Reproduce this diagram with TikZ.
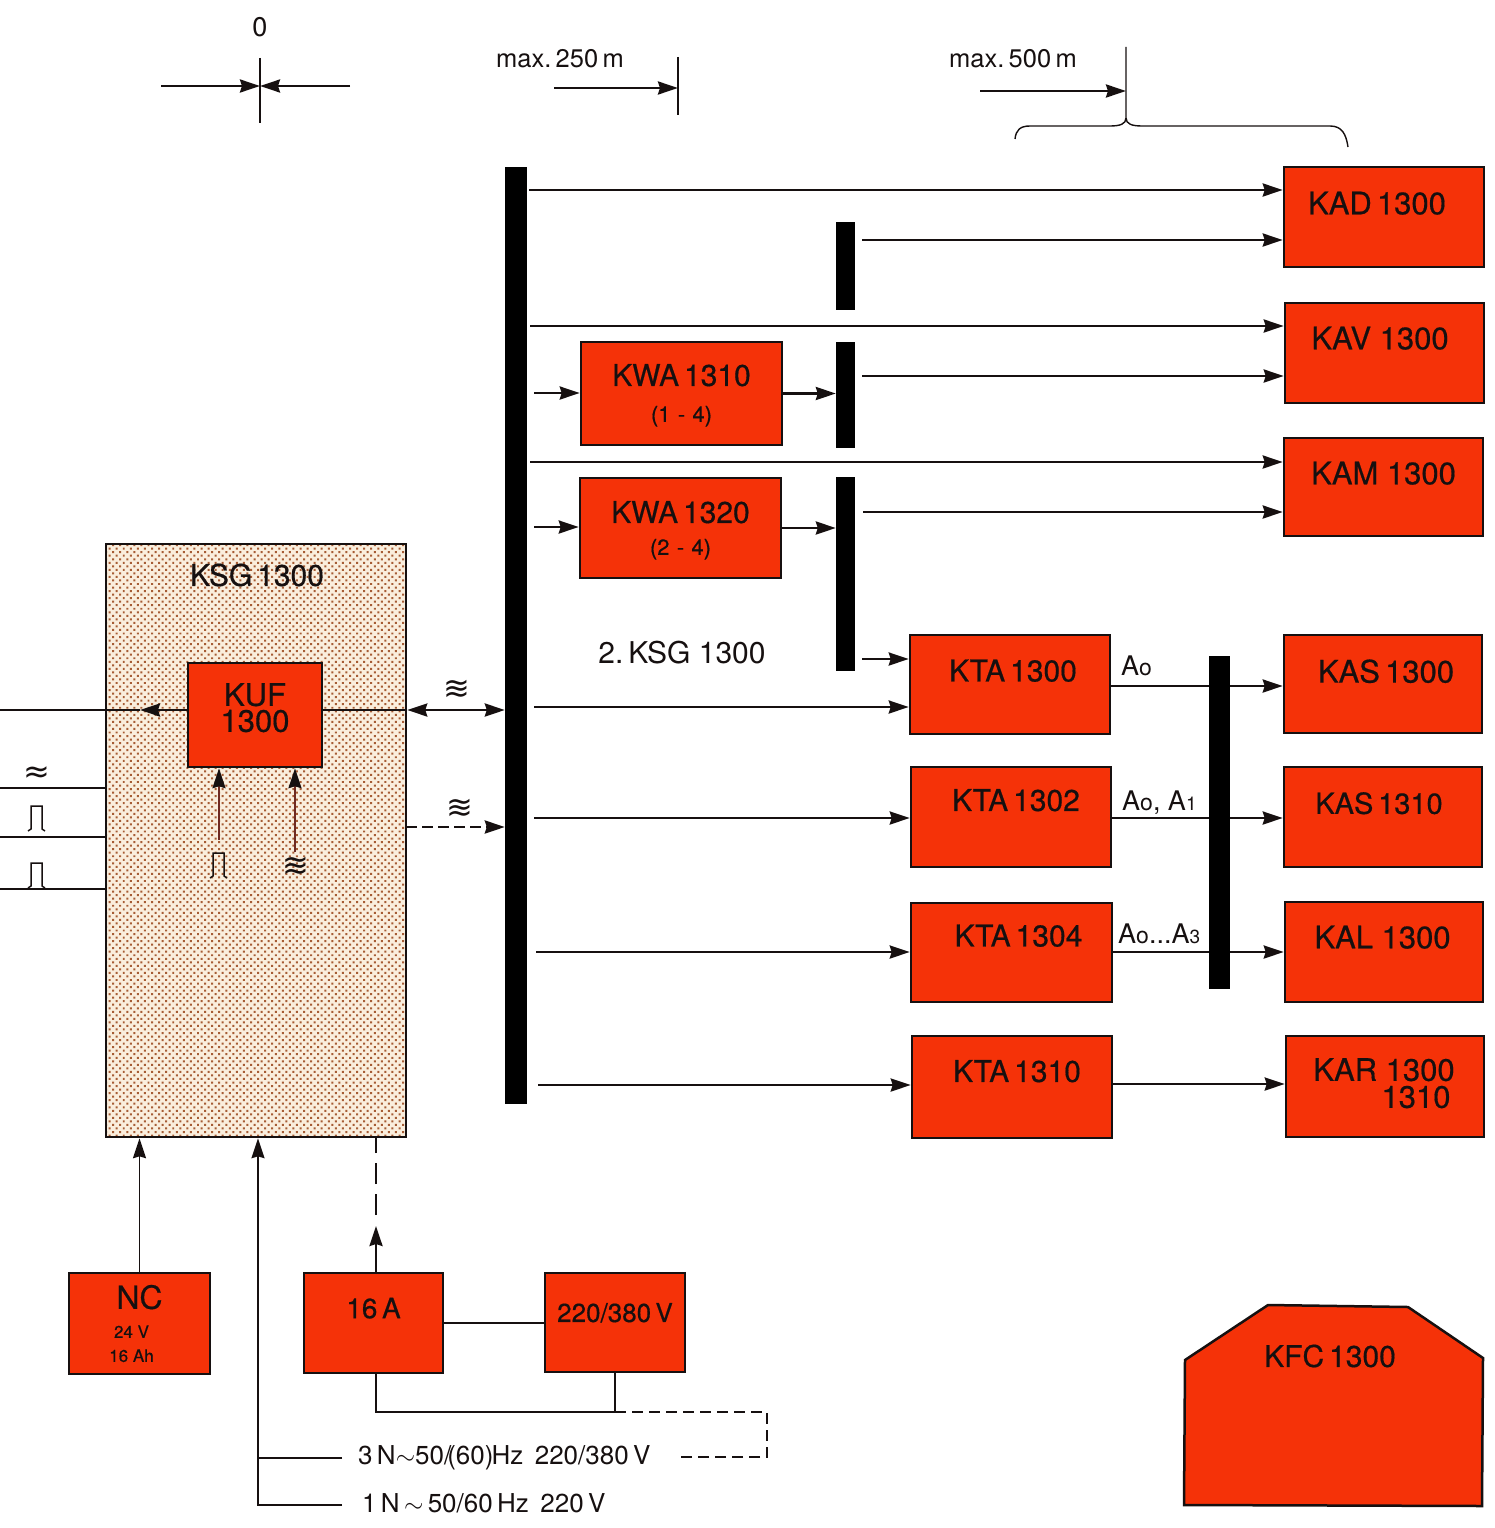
\documentclass[tikz,border=0pt]{standalone}
\usepackage{fontspec}
\setmainfont{TeX Gyre Heros}
\newfontfamily\symfont{DejaVu Sans}
\newfontfamily\unitfont[FakeBold=0.5]{TeX Gyre Heros}
\usetikzlibrary{arrows.meta,patterns.meta}
\definecolor{unitred}{HTML}{F53208}
\definecolor{ksgback}{HTML}{FAEEDD}
\definecolor{ksgdot}{HTML}{A65C34}
\definecolor{inkdark}{HTML}{161010}
\definecolor{inkbrown}{HTML}{6E2A22}
\newcommand{\fs}[1]{\fontsize{#1}{#1}\selectfont}
\tikzset{
  unit/.style={draw=inkdark, fill=unitred, line width=2.5pt, inner sep=0pt, align=center, text=inkdark, font=\unitfont\fs{31}},
  raised/.style={text depth=#1},
  bar/.style={fill=black, inner sep=0pt},
  tip/.tip={Stealth[length=20pt,width=13pt,inset=2pt]},
  sig/.style={draw=inkdark, line width=2.6pt, -{tip}},
  plain/.style={draw=inkdark, line width=2.2pt},
  thinline/.style={draw=inkdark, line width=1.4pt},
  lab/.style={text=inkdark, inner sep=0pt, font=\fs{27}},
  pulse/.pic={\draw[inkdark, line width=1.5pt] (-9,13) -- (-6,11) -- (-6,-12) -- (5,-12) -- (5,11) -- (8,13);},
}
\begin{document}
\begin{tikzpicture}[x=1pt, y=-1pt, line join=miter]
  \useasboundingbox (0,0) rectangle (1494,1528);

  % control unit with its hatching
  \node[draw=inkdark, line width=2.5pt, inner sep=0pt, minimum width=300pt, minimum height=593pt,
    preaction={fill=ksgback}, pattern={Dots[radius=1.4pt,distance=5pt,angle=45]}, pattern color=ksgdot] (ksg) at (256,840.5) {};
  \node[lab, font=\unitfont\fs{30}] (ksgname) at (257,575) {KSG\,1300};

  % right column
  \node[unit, raised=28pt, minimum width=200pt, minimum height=100pt] (kad) at (1384,217) {KAD\,1300\hspace*{14pt}};
  \node[unit, raised=30pt, minimum width=199pt, minimum height=100pt] (kav) at (1384.5,353) {KAV 1300\hspace*{9pt}};
  \node[unit, raised=28pt, minimum width=199pt, minimum height=98pt] (kam) at (1383.5,487) {KAM 1300};
  \node[unit, raised=26pt, minimum width=198pt, minimum height=98pt] (kasa) at (1383,684) {\hspace*{6pt}KAS\,1300};
  \node[unit, raised=28pt, minimum width=198pt, minimum height=100pt, font=\unitfont\fs{29}] (kasb) at (1383,817) {KAS\,1310\hspace*{8pt}};
  \node[unit, raised=30pt, minimum width=198pt, minimum height=100pt] (kal) at (1384,952) {KAL 1300\hspace*{3pt}};
  \node[unit, minimum width=198pt, minimum height=101pt] (kar) at (1385,1086.5)
    {KAR 1300\hspace*{2pt}\\[-4pt]\hspace*{62pt}1310\\[-24pt]\mbox{}};

  % middle column
  \node[unit, raised=28pt, minimum width=200pt, minimum height=99pt, font=\unitfont\fs{30}] (ktaa) at (1010,684.5) {\hspace*{6pt}KTA\,1300};
  \node[unit, raised=34pt, minimum width=200pt, minimum height=100pt, font=\unitfont\fs{30}] (ktab) at (1011,817) {\hspace*{10pt}KTA\,1302};
  \node[unit, raised=34pt, minimum width=201pt, minimum height=99pt, font=\unitfont\fs{30}] (ktac) at (1011.5,952.5) {\hspace*{14pt}KTA\,1304};
  \node[unit, raised=32pt, minimum width=200pt, minimum height=102pt, font=\unitfont\fs{30}] (ktad) at (1012,1087) {\hspace*{10pt}KTA\,1310};
  \node[unit, font=\unitfont\fs{30}, minimum width=201pt, minimum height=103pt] (kwaa) at (681.5,393.5) {KWA\,1310\\[6pt]{\fs{22}(1\,\,-\,\,4)}\\[-29pt]\mbox{}};
  \node[unit, font=\unitfont\fs{30}, minimum width=201pt, minimum height=100pt] (kwab) at (680.5,528) {KWA\,1320\\[2pt]{\fs{22}(2\,\,-\,\,4)}\\[-30pt]\mbox{}};
  \node[lab, font=\fs{30}] (second) at (682,653) {2.\,KSG 1300};

  % distribution bars
  \node[bar, minimum width=22pt, minimum height=937pt] (busa) at (516,635.5) {};
  \node[bar, minimum width=19pt, minimum height=88pt] (barb) at (845.5,266) {};
  \node[bar, minimum width=19pt, minimum height=106pt] (barc) at (845.5,395) {};
  \node[bar, minimum width=19pt, minimum height=194pt] (bard) at (845.5,574) {};

  % free ends beside the bars
  \foreach \name/\xpos/\ypos in {kad/529/190, kav/530/326, kam/530/462, kwaa/534/393, kwab/534/527,
      ktaa/534/707, ktab/534/818, ktac/536/952, ktad/538/1085} {
    \coordinate (from\name) at (\xpos,\ypos);
  }
  \coordinate (fromb) at (862,240);
  \coordinate (fromc) at (862,376);
  \coordinate (fromd) at (863,512);
  \coordinate (frome) at (862,659);

  % bus to units
  \foreach \name in {kad,kav,kam,kwaa,kwab,ktaa,ktab,ktac,ktad} {
    \draw[sig] (from\name) -- (from\name -| \name.west);
  }
  \draw[sig] (fromb) -- (fromb -| kad.west);
  \draw[sig] (fromc) -- (fromc -| kav.west);
  \draw[sig] (fromd) -- (fromd -| kam.west);
  \draw[sig] (frome) -- (frome -| ktaa.west);
  \draw[sig] (kwaa.east) -- (kwaa.east -| barc.west);
  \draw[sig] (kwab.east) -- (kwab.east -| bard.west);

  % terminals through the last bar
  \coordinate (outa) at (1110,686);
  \coordinate (outb) at (1111,818);
  \coordinate (outc) at (1112,952);
  \coordinate (outd) at (1112,1084);
  \draw[sig] (outa) -- (outa -| kasa.west);
  \draw[sig] (outb) -- (outb -| kasb.west);
  \draw[sig] (outc) -- (outc -| kal.west);
  \draw[sig] (outd) -- (outd -| kar.west);
  \node[bar, minimum width=21pt, minimum height=333pt] (bare) at (1219.5,822.5) {};
  \node[lab, font=\fs{27}, anchor=base west] (ta) at (1121,675) {A{\fs{23}o}};
  \node[lab, font=\fs{27}, anchor=base west] (tb) at (1122,810) {A{\fs{23}o}, A{\fs{19}1}};
  \node[lab, font=\fs{27}, anchor=base west] (tc) at (1118,943) {A{\fs{23}o}...A{\fs{19}3}};

  % KUF inside KSG
  \node[unit, minimum width=134pt, minimum height=104pt] (kuf) at (255,715) {KUF\\[-5pt]1300\\[-16pt]\mbox{}};
  \coordinate (kufout) at (140,710);
  \coordinate (leftend) at (0,710);
  \coordinate (kufa) at (219,840);
  \coordinate (kufb) at (295,852);
  \draw[sig] (kuf.west |- kufout) -- (kufout);
  \draw[plain] (kufout) -- (leftend);
  \draw[sig, draw=inkbrown, line width=1.6pt, -{tip[color=inkdark]}] (kufa) -- (kufa |- kuf.south);
  \draw[sig, draw=inkbrown, line width=1.6pt, -{tip[color=inkdark]}] (kufb) -- (kufb |- kuf.south);
  \draw[plain] (kuf.east |- kufout) -- (kufout -| ksg.east);
  \draw[sig, {tip}-{tip}] (ksg.east |- kufout) -- (kufout -| busa.west);
  \coordinate (dasha) at (406,827);
  \draw[sig, dashed, dash pattern=on 11pt off 5pt] (dasha) -- (dasha -| busa.west);
  \node[lab, font=\symfont\fs{32}] (waveone) at (457,690) {≋};
  \node[lab, font=\symfont\fs{32}] (wavetwo) at (460,809) {≋};
  \node[lab, font=\symfont\fs{32}] (wavethree) at (296,867) {≋};
  \pic at (219,865) {pulse};

  % inputs from the left
  \coordinate (ina) at (0,788);
  \coordinate (inb) at (0,837);
  \coordinate (inc) at (0,889);
  \foreach \pt in {ina,inb,inc} {
    \draw[plain] (\pt) -- (\pt -| ksg.west);
  }
  \node[lab, font=\symfont\fs{32}] (waveleft) at (37,775) {≈};
  \pic at (37,818) {pulse};
  \pic at (37,875) {pulse};

  % supply units
  \node[unit, minimum width=141pt, minimum height=101pt, font=\unitfont\fs{32}] (nc) at (139.5,1323.5)
    {NC\\[-3pt]{\fs{17}\hspace*{-16pt}24 V}\\[-8pt]{\fs{17}\hspace*{-16pt}16 Ah}};
  \node[unit, raised=30pt, minimum width=139pt, minimum height=100pt, font=\unitfont\fs{28}] (fuse) at (373.5,1323) {16\,A};
  \node[unit, raised=20pt, minimum width=140pt, minimum height=99pt, font=\unitfont\fs{26}] (mains) at (615,1322.5) {220/380\,V};
  \coordinate (fuseup) at (376,1273);
  \coordinate (fusetip) at (376,1226);
  \coordinate (dashtop) at (376,1215);
  \coordinate (supply) at (258,1505);
  \coordinate (thirdn) at (258,1458);
  \coordinate (onenend) at (342,1505);
  \coordinate (threenend) at (342,1458);
  \coordinate (rail) at (376,1412);
  \coordinate (railmid) at (615,1412);
  \coordinate (railend) at (767,1412);
  \coordinate (backend) at (675,1457);
  \draw[sig, line width=1.8pt] (nc.north) -- (nc.north |- ksg.south);
  \draw[sig] (fuseup) -- (fusetip);
  \draw[plain, dashed, dash pattern=on 21pt off 10pt] (dashtop) -- (dashtop |- ksg.south);
  \draw[sig, line width=1.8pt] (onenend) -- (supply) -- (supply |- ksg.south);
  \draw[plain, line width=1.8pt] (threenend) -- (thirdn);
  \draw[plain] (fuse.south -| rail) -- (rail) -- (railmid) -- (mains.south -| railmid);
  \draw[plain] (fuse.east) -- (mains.west |- fuse.east);
  \draw[plain, dashed, dash pattern=on 11pt off 6pt] (railmid) -- (railend) -- (railend |- backend) -- (backend);
  \node[lab, font=\fs{26}, anchor=base west] (threephase) at (358,1464) {3\,N$\sim$50/\kern-4pt(60)\kern-2pt Hz\ \,220/380\,V};
  \node[lab, font=\fs{26}, anchor=base west] (onephase) at (362,1512) {1\,N\,$\sim$\,50/60\,Hz\ \,220\,V};

  % the terminal block with cut corners
  \draw[draw=inkdark, fill=unitred, line width=2.5pt] (1185,1360) -- (1268,1305) -- (1408,1307) -- (1483,1358) -- (1482,1506) -- (1184,1505) -- cycle;
  \node[lab, font=\unitfont\fs{30}] (kfc) at (1330,1356) {KFC\,1300};

  % distance marks on top
  \node[lab] (zero) at (260,27) {0};
  \node[lab, font=\fs{25.5}] (maxa) at (560,59) {max.\,250\,m};
  \node[lab, font=\fs{25.5}] (maxb) at (1013,59) {max.\,500\,m};
  \coordinate (marka) at (260,58);
  \coordinate (markab) at (260,123);
  \coordinate (markb) at (678,57);
  \coordinate (markbb) at (678,115);
  \coordinate (markc) at (1126,47);
  \coordinate (markcb) at (1126,118);
  \coordinate (arra) at (161,86);
  \coordinate (arrb) at (350,86);
  \coordinate (arrc) at (554,88);
  \coordinate (arrd) at (980,91);
  \draw[thinline] (marka) -- (markab);
  \draw[thinline] (markb) -- (markbb);
  \draw[sig] (arra) -- (arra -| marka);
  \draw[sig] (arrb) -- (arrb -| marka);
  \draw[sig] (arrc) -- (arrc -| markb);
  \draw[sig] (arrd) -- (arrd -| markc);
  \draw[thinline] (1015,139) .. controls (1016,130) and (1020,126) .. (1030,126) -- (1110,126)
    .. controls (1120,126) and (1126,124) .. (markcb) -- (markc);
  \draw[thinline] (markcb) .. controls (1126,124) and (1132,126) .. (1142,126) -- (1330,126)
    .. controls (1342,126) and (1346,134) .. (1348,147);
\end{tikzpicture}
\end{document}
